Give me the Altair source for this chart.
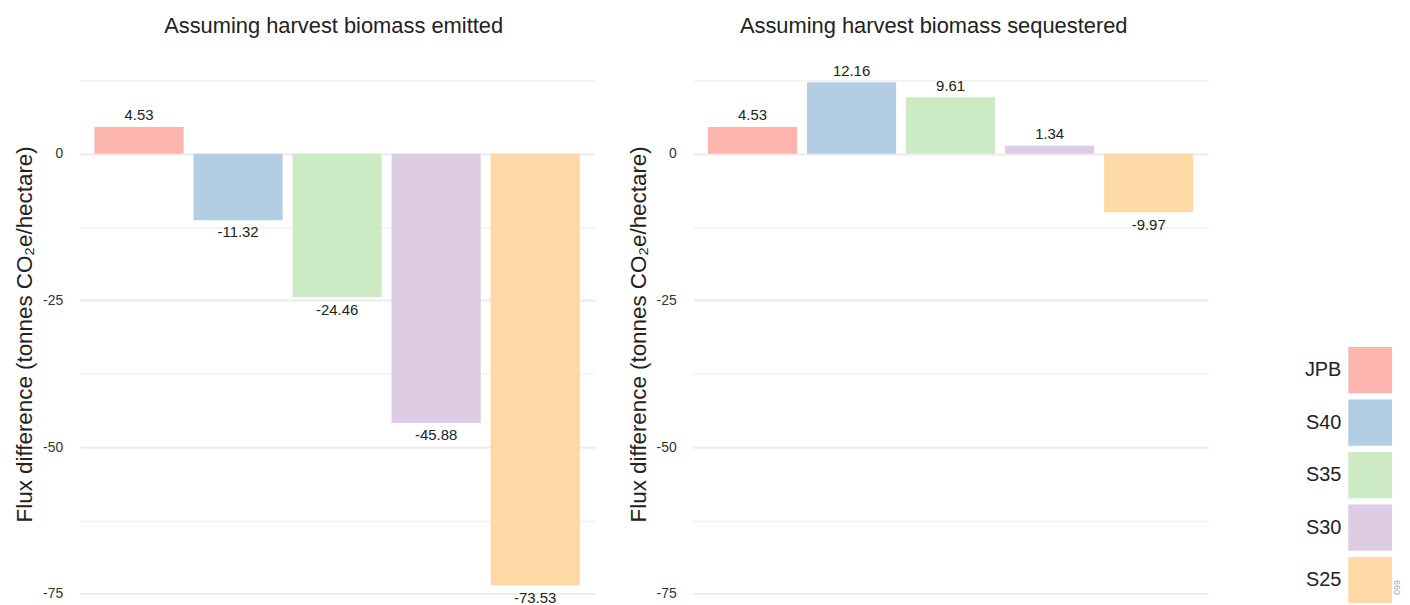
import altair as alt
import pandas as pd

# ---- data ----
categories = ["JPB", "S40", "S35", "S30", "S25"]
emitted_values = [4.53, -11.32, -24.46, -45.88, -73.53]
sequestered_values = [4.53, 12.16, 9.61, 1.34, -9.97]
palette = ["#fbb4ae", "#b3cde3", "#ccebc5", "#decbe4", "#fed9a6"]
y_gridlines = [12.5, 0, -12.5, -25, -37.5, -50, -62.5, -75]
y_domain = [-77.8, 16.4]
panel_titles = ["Assuming harvest biomass emitted", "Assuming harvest biomass sequestered"]
y_title = "Flux difference (tonnes CO\u2082e/hectare)"
corner_note = ["099"]

FONT = "Liberation Sans Narrow, Arial Narrow, Liberation Sans, sans-serif"
PANEL_H = 556


def title_params(text, dx):
    return alt.TitleParams(text, fontSize=22, font=FONT, fontWeight="normal",
                           color="#222222", offset=19.5, anchor="middle", dx=dx)


color_enc = alt.Color("cat:N", sort=categories,
                      scale=alt.Scale(domain=categories, range=palette), legend=None)


def panel(values, title, dx):
    df = pd.DataFrame({"cat": categories, "value": values})
    df["label"] = [f"{v:.2f}" for v in values]
    x = alt.X("cat:N", sort=categories, axis=None,
              scale=alt.Scale(paddingInner=0.1, paddingOuter=0.15))
    y = alt.Y("value:Q",
              scale=alt.Scale(domain=y_domain, nice=False),
              axis=alt.Axis(
                  values=y_gridlines,
                  title=y_title,
                  titleFont=FONT, titleFontSize=22.5, titleFontWeight="normal",
                  titleColor="#222222", titlePadding=6,
                  labelFont=FONT, labelFontSize=14, labelColor="#333333",
                  labelPadding=17,
                  labelExpr="datum.value % 25 === 0 ? toString(datum.value) : ''",
                  domain=False, ticks=False,
                  grid=True, gridColor="#ebebeb",
                  gridWidth={"condition": {"test": "datum.value % 25 === 0", "value": 2}, "value": 1},
              ))
    base = alt.Chart(df)
    bars = base.mark_bar().encode(x=x, y=y, color=color_enc)
    pos = base.transform_filter("datum.value >= 0").mark_text(
        baseline="alphabetic", dy=-6.7, fontSize=15, font=FONT, color="#222222"
    ).encode(x=x, y=alt.Y("value:Q"), text="label:N")
    neg = base.transform_filter("datum.value < 0").mark_text(
        baseline="alphabetic", dy=17.4, fontSize=15, font=FONT, color="#222222"
    ).encode(x=x, y=alt.Y("value:Q"), text="label:N")
    return alt.layer(bars, pos, neg).properties(
        width=518, height=PANEL_H, title=title_params(title, dx))


left = panel(emitted_values, panel_titles[0], -3.5)
right = panel(sequestered_values, panel_titles[1], -17)

# ---- legend panel (labels to the left of the swatches) ----
leg_df = pd.DataFrame({"cat": categories})
leg_y = alt.Y("cat:N", sort=categories, axis=None,
              scale=alt.Scale(range=[288, 552], paddingInner=0.12, paddingOuter=0.06))
swatches = alt.Chart(leg_df).mark_rect().encode(
    y=leg_y, x=alt.value(57), x2=alt.value(101), color=color_enc)
leg_text = alt.Chart(leg_df).mark_text(
    align="right", baseline="middle", fontSize=20, font=FONT, color="#222222"
).encode(y=leg_y, x=alt.value(50), text="cat:N")
note = alt.Chart(pd.DataFrame({"t": corner_note})).mark_text(
    angle=270, fontSize=9, font=FONT, color="#aaaaaa", align="center", baseline="middle"
).encode(text="t:N", x=alt.value(106), y=alt.value(533))
legend = alt.layer(swatches, leg_text, note).properties(
    width=110, height=PANEL_H, title=title_params(" ", 0))

chart = alt.hconcat(
    alt.hconcat(left, right, spacing=32),
    legend,
    spacing=84,
).properties(
    padding={"left": 5, "top": 5, "right": 0, "bottom": 0}
).configure_view(stroke=None)

chart.save("out.html", embed_options={"renderer": "svg", "actions": False})
